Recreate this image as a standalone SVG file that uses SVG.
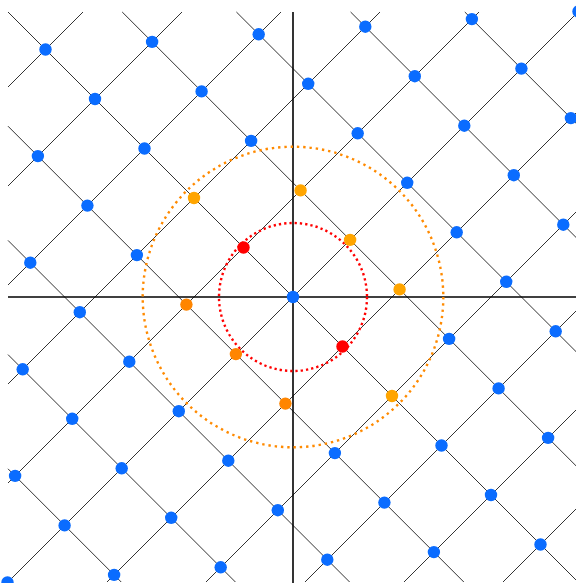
<svg xmlns="http://www.w3.org/2000/svg" width="576" height="583" viewBox="0 0 576 583">
<style>
.ln{stroke:#333;stroke-width:1;fill:none}
.ax{stroke:#000;stroke-width:1.6;fill:none}
.cr{fill:none;stroke:#ff0000;stroke-width:2.4;stroke-dasharray:2.3 3}
.co{fill:none;stroke:#ff8a00;stroke-width:2.4;stroke-dasharray:2.4 3.9}
.b{fill:#0a6cff}
.r{fill:#ff0000}
.o{fill:#ffa500}
.d{fill:#ff8500}
</style>
<rect width="576" height="583" fill="#fff"/>
<g id="connectors">
<line class="ln" x1="8" y1="12" x2="578" y2="582"/>
<line class="ln" x1="122.2" y1="12" x2="578" y2="467.8"/>
<line class="ln" x1="236.4" y1="12" x2="578" y2="353.6"/>
<line class="ln" x1="350.6" y1="12" x2="578" y2="239.4"/>
<line class="ln" x1="464.8" y1="12" x2="578" y2="125.2"/>
<line class="ln" x1="8" y1="126.2" x2="463.8" y2="582"/>
<line class="ln" x1="8" y1="240.4" x2="349.6" y2="582"/>
<line class="ln" x1="8" y1="354.6" x2="235.4" y2="582"/>
<line class="ln" x1="8" y1="468.8" x2="121.2" y2="582"/>
<line class="ln" x1="8" y1="582" x2="578" y2="12"/>
<line class="ln" x1="107" y1="582" x2="578" y2="111"/>
<line class="ln" x1="206" y1="582" x2="578" y2="210"/>
<line class="ln" x1="305" y1="582" x2="578" y2="309"/>
<line class="ln" x1="404" y1="582" x2="578" y2="408"/>
<line class="ln" x1="503" y1="582" x2="578" y2="507"/>
<line class="ln" x1="8" y1="483" x2="479" y2="12"/>
<line class="ln" x1="8" y1="384" x2="380" y2="12"/>
<line class="ln" x1="8" y1="285" x2="281" y2="12"/>
<line class="ln" x1="8" y1="186" x2="182" y2="12"/>
<line class="ln" x1="8" y1="87" x2="83" y2="12"/>
<line class="ax" x1="8" y1="297" x2="578" y2="297"/>
<line class="ax" x1="293" y1="12" x2="293" y2="583"/>
<circle class="cr" cx="293" cy="297" r="74"/>
<circle class="co" cx="293" cy="297" r="150.3"/>
</g>
<g id="nodes">
<g id="p_m5_n0"><circle class="b" cx="45.5" cy="49.5" r="6.2"/></g>
<g id="p_m4_n0"><circle class="b" cx="95" cy="99" r="6.2"/></g>
<g id="p_m3_n0"><circle class="b" cx="144.5" cy="148.5" r="6.2"/></g>
<g id="p_m2_n0"><circle class="o" cx="194" cy="198" r="6.2"/></g>
<g id="p_m1_n0"><circle class="r" cx="243.5" cy="247.5" r="6.2"/></g>
<g id="p_0_0"><circle class="b" cx="293" cy="297" r="6.2"/></g>
<g id="p_1_n0"><circle class="r" cx="342.5" cy="346.5" r="6.2"/></g>
<g id="p_2_n0"><circle class="o" cx="392" cy="396" r="6.2"/></g>
<g id="p_3_n0"><circle class="b" cx="441.5" cy="445.5" r="6.2"/></g>
<g id="p_4_n0"><circle class="b" cx="491" cy="495" r="6.2"/></g>
<g id="p_5_n0"><circle class="b" cx="540.5" cy="544.5" r="6.2"/></g>
<g id="p_m4_n1"><circle class="b" cx="152.1" cy="41.9" r="6.2"/></g>
<g id="p_m3_n1"><circle class="b" cx="201.6" cy="91.4" r="6.2"/></g>
<g id="p_m2_n1"><circle class="b" cx="251.1" cy="140.9" r="6.2"/></g>
<g id="p_m1_n1"><circle class="o" cx="300.6" cy="190.4" r="6.2"/></g>
<g id="p_0_n1"><circle class="o" cx="350.1" cy="239.9" r="6.2"/></g>
<g id="p_1_n1"><circle class="o" cx="399.6" cy="289.4" r="6.2"/></g>
<g id="p_2_n1"><circle class="b" cx="449.1" cy="338.9" r="6.2"/></g>
<g id="p_3_n1"><circle class="b" cx="498.6" cy="388.4" r="6.2"/></g>
<g id="p_4_n1"><circle class="b" cx="548.1" cy="437.9" r="6.2"/></g>
<g id="p_m4_nm1"><circle class="b" cx="37.9" cy="156.1" r="6.2"/></g>
<g id="p_m3_nm1"><circle class="b" cx="87.4" cy="205.6" r="6.2"/></g>
<g id="p_m2_nm1"><circle class="b" cx="136.9" cy="255.1" r="6.2"/></g>
<g id="p_m1_nm1"><circle class="d" cx="186.4" cy="304.6" r="6.2"/></g>
<g id="p_0_nm1"><circle class="d" cx="235.9" cy="354.1" r="6.2"/></g>
<g id="p_1_nm1"><circle class="d" cx="285.4" cy="403.6" r="6.2"/></g>
<g id="p_2_nm1"><circle class="b" cx="334.9" cy="453.1" r="6.2"/></g>
<g id="p_3_nm1"><circle class="b" cx="384.4" cy="502.6" r="6.2"/></g>
<g id="p_4_nm1"><circle class="b" cx="433.9" cy="552.1" r="6.2"/></g>
<g id="p_m3_n2"><circle class="b" cx="258.7" cy="34.3" r="6.2"/></g>
<g id="p_m2_n2"><circle class="b" cx="308.2" cy="83.8" r="6.2"/></g>
<g id="p_m1_n2"><circle class="b" cx="357.7" cy="133.3" r="6.2"/></g>
<g id="p_0_n2"><circle class="b" cx="407.2" cy="182.8" r="6.2"/></g>
<g id="p_1_n2"><circle class="b" cx="456.7" cy="232.3" r="6.2"/></g>
<g id="p_2_n2"><circle class="b" cx="506.2" cy="281.8" r="6.2"/></g>
<g id="p_3_n2"><circle class="b" cx="555.7" cy="331.3" r="6.2"/></g>
<g id="p_m3_nm2"><circle class="b" cx="30.3" cy="262.7" r="6.2"/></g>
<g id="p_m2_nm2"><circle class="b" cx="79.8" cy="312.2" r="6.2"/></g>
<g id="p_m1_nm2"><circle class="b" cx="129.3" cy="361.7" r="6.2"/></g>
<g id="p_0_nm2"><circle class="b" cx="178.8" cy="411.2" r="6.2"/></g>
<g id="p_1_nm2"><circle class="b" cx="228.3" cy="460.7" r="6.2"/></g>
<g id="p_2_nm2"><circle class="b" cx="277.8" cy="510.2" r="6.2"/></g>
<g id="p_3_nm2"><circle class="b" cx="327.3" cy="559.7" r="6.2"/></g>
<g id="p_m2_n3"><circle class="b" cx="365.3" cy="26.7" r="6.2"/></g>
<g id="p_m1_n3"><circle class="b" cx="414.8" cy="76.2" r="6.2"/></g>
<g id="p_0_n3"><circle class="b" cx="464.3" cy="125.7" r="6.2"/></g>
<g id="p_1_n3"><circle class="b" cx="513.8" cy="175.2" r="6.2"/></g>
<g id="p_2_n3"><circle class="b" cx="563.3" cy="224.7" r="6.2"/></g>
<g id="p_m2_nm3"><circle class="b" cx="22.7" cy="369.3" r="6.2"/></g>
<g id="p_m1_nm3"><circle class="b" cx="72.2" cy="418.8" r="6.2"/></g>
<g id="p_0_nm3"><circle class="b" cx="121.7" cy="468.3" r="6.2"/></g>
<g id="p_1_nm3"><circle class="b" cx="171.2" cy="517.8" r="6.2"/></g>
<g id="p_2_nm3"><circle class="b" cx="220.7" cy="567.3" r="6.2"/></g>
<g id="p_m1_n4"><circle class="b" cx="471.9" cy="19.1" r="6.2"/></g>
<g id="p_0_n4"><circle class="b" cx="521.4" cy="68.6" r="6.2"/></g>
<g id="p_1_n4"><circle class="b" cx="570.9" cy="118.1" r="6.2"/></g>
<g id="p_m1_nm4"><circle class="b" cx="15.1" cy="475.9" r="6.2"/></g>
<g id="p_0_nm4"><circle class="b" cx="64.6" cy="525.4" r="6.2"/></g>
<g id="p_1_nm4"><circle class="b" cx="114.1" cy="574.9" r="6.2"/></g>
<g id="p_0_n5"><circle class="b" cx="578.5" cy="11.5" r="6.2"/></g>
<g id="p_0_nm5"><circle class="b" cx="7.5" cy="582.5" r="6.2"/></g>
</g>
</svg>
